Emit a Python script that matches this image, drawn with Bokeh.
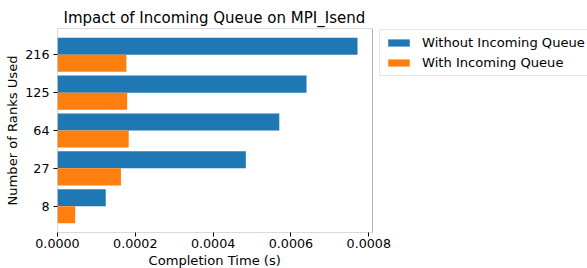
from bokeh.plotting import figure
from bokeh.models import (ColumnDataSource, FixedTicker, PrintfTickFormatter, Legend,
                          LegendItem, Range1d, BoxAnnotation, Title)
from bokeh.transform import dodge
from bokeh.embed import file_html
from bokeh.resources import INLINE

# ---- data ----
ranks = ["8", "27", "64", "125", "216"]
without_queue = [0.000124, 0.000484, 0.000570, 0.000640, 0.000771]
with_queue = [0.0000454, 0.000163, 0.000183, 0.000179, 0.000177]
x_ticks = [0.0, 0.0002, 0.0004, 0.0006, 0.0008]
series_labels = ["Without Incoming Queue", "With Incoming Queue"]

idx = list(range(len(ranks)))
src = ColumnDataSource(dict(idx=idx, without=without_queue, withq=with_queue))

BAR_H = 0.45
x_max = max(without_queue) * 1.05            # matplotlib-style 5% margin
span = len(ranks) - 1 + 2 * BAR_H
y_min = -BAR_H - 0.05 * span
y_max = len(ranks) - 1 + BAR_H + 0.05 * span

# frame spans to the right edge so the legend can sit outside the axes box
W, H = 587, 268
FL, FR, FT, FB = 57, 0, 28, 36
axes_px = 315
frame_px = W - FL - FR
x_view_max = x_max * frame_px / axes_px

FONT = "DejaVu Sans"
p = figure(width=W, height=H, output_backend="svg", toolbar_location=None,
           title="Impact of Incoming Queue on MPI_Isend",
           x_range=Range1d(0, x_view_max), y_range=Range1d(y_min, y_max),
           min_border_left=FL, min_border_right=FR, min_border_top=FT, min_border_bottom=FB)

r1 = p.hbar(y=dodge("idx", BAR_H / 2), right="without", left=0, height=BAR_H, source=src,
            fill_color="#1f77b4", line_color=None)
r2 = p.hbar(y=dodge("idx", -BAR_H / 2), right="withq", left=0, height=BAR_H, source=src,
            fill_color="#ff7f0e", line_color=None)

# axes box (spines)
p.add_layout(BoxAnnotation(left=0, right=x_max, bottom=y_min, top=y_max,
                           fill_alpha=0, line_color="black", line_width=1))

p.title.text_font = FONT
p.title.text_font_size = "15px"
p.title.text_font_style = "normal"
p.title.text_color = "black"
p.title.align = "left"
p.title.offset = 6
p.title.standoff = 3

p.xgrid.visible = False
p.ygrid.visible = False
p.outline_line_color = None

for ax in (p.xaxis[0], p.yaxis[0]):
    ax.major_label_text_font = FONT
    ax.major_label_text_font_size = "12.7px"
    ax.major_label_text_color = "black"
    ax.axis_label_text_font = FONT
    ax.axis_label_text_font_size = "13.1px"
    ax.axis_label_text_font_style = "normal"
    ax.axis_label_text_color = "black"
    ax.major_tick_line_color = "black"
    ax.major_tick_out = 4
    ax.major_tick_in = 0
    ax.minor_tick_line_color = None

p.xaxis.axis_line_color = None
p.xaxis.ticker = FixedTicker(ticks=x_ticks)
p.xaxis.formatter = PrintfTickFormatter(format="%.4f")
p.xaxis.major_label_standoff = 2

# x-axis label centred under the axes box (not the wider frame)
xlabel = Title(text="Completion Time (s)", align="left", offset=91, standoff=0,
               text_font=FONT, text_font_size="13.1px", text_font_style="normal",
               text_color="black")
p.add_layout(xlabel, "below")

p.yaxis.axis_line_color = None
p.yaxis.axis_label = "Number of Ranks Used"
p.yaxis.ticker = FixedTicker(ticks=idx)
p.yaxis.major_label_overrides = {i: r for i, r in enumerate(ranks)}
p.yaxis.major_label_standoff = 4
p.yaxis.axis_label_standoff = 2

legend = Legend(items=[LegendItem(label=series_labels[0], renderers=[r1]),
                       LegendItem(label=series_labels[1], renderers=[r2])],
                location=(322, 156), orientation="vertical",
                label_text_font=FONT, label_text_font_size="13.1px", label_text_color="black",
                glyph_width=27, glyph_height=9, label_height=14, label_width=175,
                label_standoff=10, spacing=5, padding=5, margin=0,
                border_line_color="#cccccc", border_line_width=1,
                background_fill_color="white", background_fill_alpha=0.8)
p.add_layout(legend, "center")

open("out.html", "w").write(file_html(p, INLINE))
